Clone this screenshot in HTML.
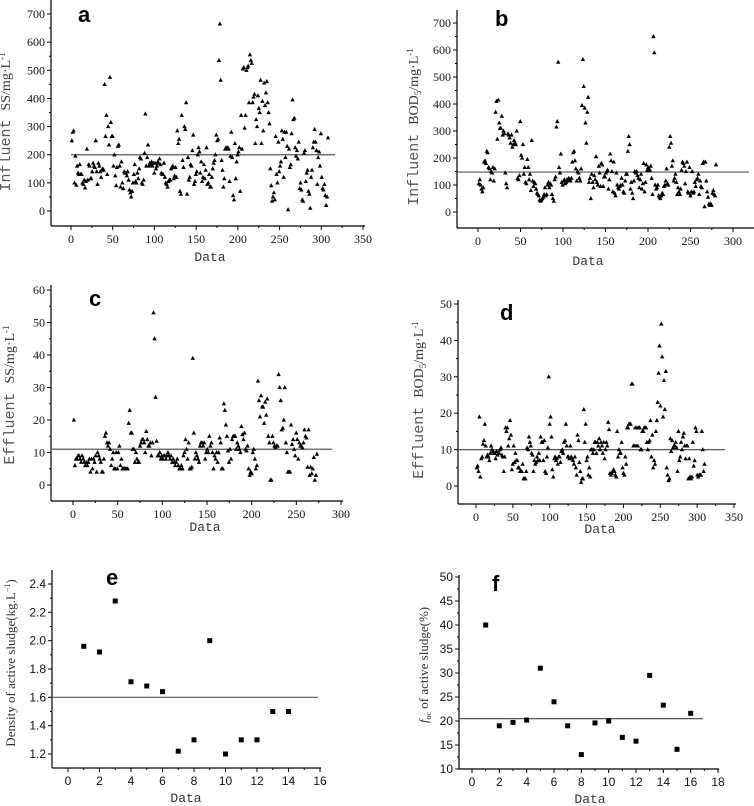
<!DOCTYPE html>
<html><head><meta charset="utf-8"><style>
html,body{margin:0;padding:0;background:#fff;width:754px;height:806px;overflow:hidden}
svg{display:block}
.tk{font-family:"Liberation Serif",serif;font-size:12px;fill:#111}
.tks{font-family:"Liberation Sans",sans-serif;font-size:12px;fill:#111}
.ttl{font-family:"Liberation Mono",monospace;font-size:13px;fill:#333}
.yt{font-family:"Liberation Serif",serif;font-size:13px;fill:#333}
.lt{font-family:"Liberation Sans",sans-serif;font-weight:bold;font-size:22px;fill:#000}
.mw{font-family:"Liberation Mono",monospace;font-size:15px;fill:#555}
</style></head><body>
<svg id="chart" width="754" height="806" viewBox="0 0 754 806"></svg>
<script>
const aVals=[250,280,285,100,195,92,160,135,130,165,130,130,100,95,110,82,105,220,110,165,160,115,115,140,170,160,155,250,140,95,170,160,140,120,145,150,145,450,265,340,130,300,235,475,315,265,265,160,200,125,90,155,230,235,160,85,175,100,80,140,135,135,125,140,110,75,65,50,70,100,130,165,105,100,135,115,150,190,185,100,95,110,205,345,160,190,235,160,170,165,175,160,170,135,170,150,160,175,170,185,165,135,130,130,170,120,100,95,85,105,110,110,150,155,160,115,125,155,120,285,240,255,70,60,340,180,155,300,290,385,60,190,110,120,165,160,215,270,95,105,130,140,200,225,210,135,175,105,120,165,115,145,225,95,100,130,85,85,120,150,170,180,200,270,250,255,535,665,465,180,145,85,115,220,225,220,225,220,105,195,280,190,55,40,240,115,175,200,210,225,70,340,220,505,510,295,340,500,510,515,385,555,535,525,385,405,415,240,325,300,410,365,350,465,240,390,285,455,375,420,460,385,350,310,150,90,35,50,65,40,265,130,100,245,140,160,175,285,255,120,280,190,280,230,5,220,155,165,275,395,325,330,225,195,215,185,245,80,100,75,40,35,205,215,105,135,145,70,60,10,120,145,225,245,290,245,215,95,190,210,160,275,120,80,75,95,55,20,50,260];
const bVals=[105,120,100,85,75,90,185,190,180,225,220,165,160,120,150,145,165,115,160,370,410,270,415,330,310,310,355,285,300,290,145,105,90,290,285,275,255,285,240,250,265,255,250,300,125,120,135,335,210,200,250,140,165,110,105,195,165,120,140,80,265,115,95,110,105,85,70,65,60,45,40,45,50,55,65,90,60,65,100,110,90,105,100,65,50,40,120,130,315,335,555,165,145,215,110,100,115,120,105,110,120,115,125,120,115,125,185,220,225,190,160,115,150,145,125,115,160,395,565,465,385,330,255,370,425,110,125,50,140,110,90,135,120,205,110,100,170,145,95,180,175,95,130,130,145,150,155,85,120,215,190,150,75,185,70,60,145,100,90,85,95,100,125,100,75,70,115,140,140,225,280,250,85,110,70,50,115,150,145,150,135,125,90,120,140,85,105,180,75,110,175,155,165,160,155,170,125,65,650,590,100,85,90,100,60,55,50,60,70,65,95,100,115,160,105,100,240,280,255,170,190,115,125,140,110,65,90,75,65,85,155,185,180,170,105,150,185,75,70,165,60,75,150,70,75,110,95,120,125,140,65,115,95,90,180,185,20,185,115,75,55,30,25,30,25,70,80,65,60,175];
const cVals=[20,6,8,8,9,9,8,7,9,8,7,6,7,6,7,8,4,8,5,8,7,9,4,10,9,8,7,4,4,8,15,16,13,12,13,11,6,8,10,5,5,10,5,10,12,6,8,5,5,5,5,5,5,19,23,16,16,11,11,7,10,8,7,7,12,13,14,14,13,10,16.5,14,12,12,13,9,13,53,45,27,13.5,9,9,10,8,9,8,9,9,8,9,10,9,8,9,7,8,7,6,7,8,6,5,5,6,5,9,10,14,11,8,13,5,5,5.5,39,16,8,10,9,8,7,12,13,13,12,13,8,10,11,10,15,12,13,10,5,9,8,10,7,10,14.5,13,5,5,25,23,18.5,15,10.5,7,11,8,14,15,15,15,11,13,12,11,10,18,15.5,14,16,11,10.5,12,5,3,4,3.5,10,11,8,5,6,32,26,21,27.5,24,24,19,25.5,21.5,26.5,15,13,1.5,1.5,15,13,12,11.5,12,12,34,30,26,17,17.5,20,30,13,10,4,4,4,18.5,12.5,14,11,9,16,14,8,13,12,12,11.5,13,17,15,14.5,5.5,17,3,5.5,3.5,5,8.5,1.5,3,9.5];
const dVals=[5,5.5,4,19,2.5,7.5,8,11.5,12.5,17,11,8,8.5,8,7,9,11,10,9.5,9,9,7.5,9.5,8.5,9,9,10,10.5,8.5,8,4,8,16,15,16,11,13,18,14,4.5,6,11,6.5,9,7,7,5,5,4,4,4,6,2,2,2,4,10.5,10,13.5,12,11,9,8.5,4,7,6,6.5,8,7,9,7,13.5,12,12,7,12.5,4,3.5,8,10.5,30,17,19,13.5,4.5,2.5,7.5,8,7,7.5,6,8,8,6.5,9.5,10,9,12,12.5,17,11,8,8,7.5,11,8,7.5,7,6,8,5,3,14,12.5,6.5,4,1,2,2,21,12,17,7,8,3,5,2.5,10,10,9,10,12,12,9,12,11,13,10,12,11,9,12,7.5,10,12,11,17.5,15.5,3.5,3,3.5,4,4.5,4,3,2.5,15,8,10,9,9,12,5,3.5,3,8,6,16,16,17,17,17,28,28,11,11,16,11,16,11,16,16,10,10,15,15,16,16,16,12,10,12,12.5,18,8,14,5,7,6,15,18,23,31,38.5,22,44.5,35.5,19,29,21,31.5,5,3,1.5,2,13,9.5,12.5,10.5,11,11,12,10.5,4,15,7,8,12,10,13.5,14.5,11,7.5,11,11,2,7.5,2.5,2,2.5,12,5.5,7,16,15,3,2.5,3,3,3,15,10,4,6];
const eX=[1,2,3,4,5,6,7,8,9,10,11,12,13,14];
const eVals=[1.96,1.92,2.28,1.71,1.68,1.64,1.22,1.30,2.00,1.20,1.30,1.30,1.50,1.50];
const fX=[1,2,3,4,5,6,7,8,9,10,11,12,13,14,15,16];
const fVals=[40,19,19.7,20.2,31,24,19,13,19.6,20,16.6,15.8,29.5,23.3,14.1,21.6];
const aLast=308,bLast=280,cLast=273,dLast=310;
const means={a:200,b:148,c:11,d:10,e:1.6,f:20.5};

const svg=document.getElementById('chart');
const NS='http://www.w3.org/2000/svg';
function mk(t,at,txt){const e=document.createElementNS(NS,t);for(const k in at)e.setAttribute(k,at[k]);if(txt!==undefined)e.textContent=txt;svg.appendChild(e);return e;}

function panel(p){
  const sx=v=>p.x0px+(v-p.xv0)*(p.x1px-p.x0px)/(p.xv1-p.xv0);
  const sy=v=>p.y0px+(v-p.yv0)*(p.y1px-p.y0px)/(p.yv1-p.yv0);
  let e=mk('line',{x1:p.left,y1:p.axisY,x2:p.right,y2:p.axisY,stroke:'#000','stroke-width':1.2});
  
  
  e=mk('line',{x1:p.left,y1:p.top,x2:p.left,y2:p.axisY,stroke:'#000','stroke-width':1.2});
  
  
  p.xticks.forEach(v=>{
    const x=sx(v);
    mk('line',{x1:x,y1:p.axisY,x2:x,y2:p.axisY+4,stroke:'#000'});
    e=mk('text',{x:x,y:p.axisY+17,'text-anchor':'middle',class:p.tc},p.fmtx?p.fmtx(v):String(v));
    
    
  });
  for(let i=0;i<p.xticks.length-1;i++){const x=sx((p.xticks[i]+p.xticks[i+1])/2);mk('line',{x1:x,y1:p.axisY,x2:x,y2:p.axisY+2,stroke:'#000'});}
  p.yticks.forEach(v=>{
    const y=sy(v);
    mk('line',{x1:p.left-4,y1:y,x2:p.left,y2:y,stroke:'#000'});
    e=mk('text',{x:p.left-6,y:y+4,'text-anchor':'end',class:p.tc},p.fmty?p.fmty(v):String(v));
    
    
  });
  for(let i=0;i<p.yticks.length-1;i++){const y=sy((p.yticks[i]+p.yticks[i+1])/2);mk('line',{x1:p.left-2,y1:y,x2:p.left,y2:y,stroke:'#000'});}
  e=mk('line',{x1:p.meanX0,y1:sy(p.mean),x2:p.meanX1,y2:sy(p.mean),stroke:'#555','stroke-width':1.2});
  
  
  p.ys.forEach((v,i)=>{
    const x=sx(p.xs[i]),y=sy(v);
    let m;
    if(p.square) m=mk('rect',{x:x-2.5,y:y-2.5,width:5,height:5,fill:'#000'});
    else m=mk('polygon',{points:`${x},${y-2.5} ${x-2.2},${y+1.6} ${x+2.2},${y+1.6}`,fill:'#000'});
    
    
  });
  e=mk('text',{x:p.xtX,y:p.xtY,'text-anchor':'middle',class:'ttl'},'Data');
  
  
  e=mk('text',{x:p.ytX,y:p.ytY,'text-anchor':'middle',class:'yt',transform:`rotate(-90 ${p.ytX} ${p.ytY})`});
  e.innerHTML=p.ytitle;
  
  
  e=mk('text',{x:p.lx,y:p.ly,class:'lt'},p.id);
  
  
}
const idx=(arr,last)=>arr.map((_,i)=>1+i*(last-1)/(arr.length-1));
const f1=v=>v.toFixed(1);
panel({id:'a',xs:idx(aVals,aLast),ys:aVals,mean:means.a,x0px:71,xv0:0,x1px:363,xv1:350,y0px:211,yv0:0,y1px:14,yv1:700,left:51,right:365,top:0,axisY:226,xticks:[0,50,100,150,200,250,300,350],yticks:[0,100,200,300,400,500,600,700],meanX0:71,meanX1:335,tc:'tk',xtX:210,xtY:261,ytX:10,ytY:122,ytitle:'<tspan class="mw">Influent </tspan><tspan style="font-size:14px">SS/mg·L</tspan><tspan dy="-5" style="font-size:9px">-1</tspan>',lx:78,ly:22});
panel({id:'b',xs:idx(bVals,bLast),ys:bVals,mean:means.b,x0px:478,xv0:0,x1px:733,xv1:300,y0px:212,yv0:0,y1px:23,yv1:700,left:457,right:754,top:10,axisY:228,xticks:[0,50,100,150,200,250,300],yticks:[0,100,200,300,400,500,600,700],meanX0:457,meanX1:749,tc:'tk',xtX:588,xtY:265,ytX:418,ytY:127,ytitle:'<tspan class="mw">Influent </tspan><tspan style="font-size:14px">BOD</tspan><tspan dy="3" style="font-size:9px">5</tspan><tspan dy="-3" style="font-size:14px">/mg·L</tspan><tspan dy="-5" style="font-size:9px">-1</tspan>',lx:495,ly:26});
panel({id:'c',xs:idx(cVals,cLast),ys:cVals,mean:means.c,x0px:73,xv0:0,x1px:341,xv1:300,y0px:485,yv0:0,y1px:290,yv1:60,left:51,right:343,top:285,axisY:501,xticks:[0,50,100,150,200,250,300],yticks:[0,10,20,30,40,50,60],meanX0:51,meanX1:332,tc:'tk',xtX:205,xtY:531,ytX:14,ytY:395,ytitle:'<tspan class="mw">Effluent </tspan><tspan style="font-size:14px">SS/mg·L</tspan><tspan dy="-5" style="font-size:9px">-1</tspan>',lx:89,ly:306});
panel({id:'d',xs:idx(dVals,dLast),ys:dVals,mean:means.d,x0px:476,xv0:0,x1px:734,xv1:350,y0px:486,yv0:0,y1px:304,yv1:50,left:458,right:736,top:300,axisY:504,xticks:[0,50,100,150,200,250,300,350],yticks:[0,10,20,30,40,50],meanX0:458,meanX1:725,tc:'tk',xtX:600,xtY:533,ytX:423,ytY:400,ytitle:'<tspan class="mw">Effluent </tspan><tspan style="font-size:14px">BOD</tspan><tspan dy="3" style="font-size:9px">5</tspan><tspan dy="-3" style="font-size:14px">/mg·L</tspan><tspan dy="-5" style="font-size:9px">-1</tspan>',lx:500,ly:320});
panel({id:'e',xs:eX,ys:eVals,mean:means.e,square:true,x0px:68,xv0:0,x1px:320,xv1:16,y0px:754,yv0:1.2,y1px:584,yv1:2.4,left:52,right:321,top:570,axisY:768,xticks:[0,2,4,6,8,10,12,14,16],yticks:[1.2,1.4,1.6,1.8,2.0,2.2,2.4],fmty:f1,meanX0:52,meanX1:318,tc:'tks',xtX:186,xtY:802,ytX:15,ytY:663,ytitle:'<tspan style="font-size:13px">Density of active sludge(kg.L</tspan><tspan dy="-5" style="font-size:8px">−1</tspan><tspan dy="5" style="font-size:13px">)</tspan>',lx:106,ly:585});
panel({id:'f',xs:fX,ys:fVals,mean:means.f,square:true,x0px:472,xv0:0,x1px:718,xv1:18,y0px:769,yv0:10,y1px:577,yv1:50,left:459,right:719,top:575,axisY:769,xticks:[0,2,4,6,8,10,12,14,16,18],yticks:[10,15,20,25,30,35,40,45,50],meanX0:459,meanX1:703,tc:'tks',xtX:590,xtY:803,ytX:428,ytY:665,ytitle:'<tspan style="font-style:italic;font-size:13px">f</tspan><tspan dy="3" style="font-size:8px">oc</tspan><tspan dy="-3" style="font-size:13px"> of active sludge(%)</tspan>',lx:492,ly:591});
</script>
</body></html>
